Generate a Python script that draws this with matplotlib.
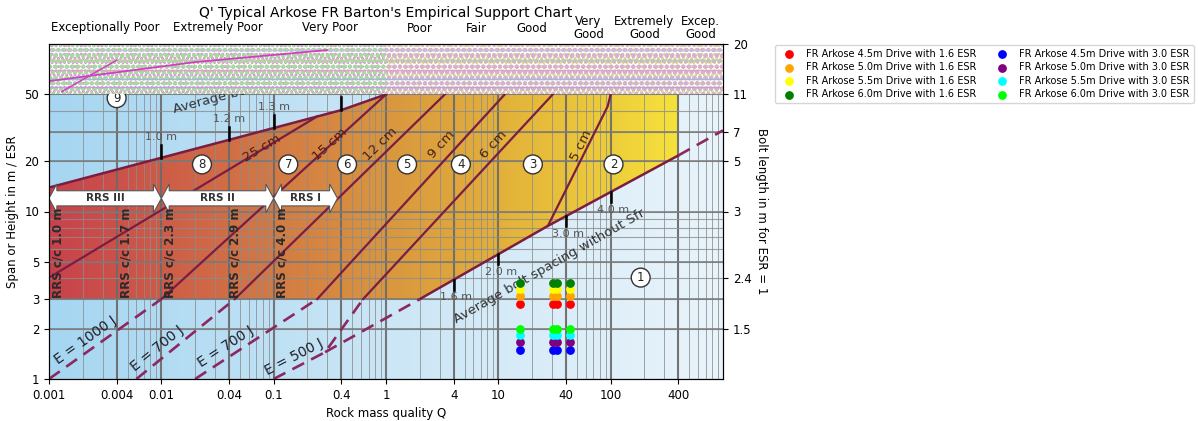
import numpy as np
import matplotlib.pyplot as plt
from matplotlib.colors import LinearSegmentedColormap
from matplotlib.patches import Polygon, Rectangle
from matplotlib.ticker import NullLocator

# axis ticks
q_ticks = [0.001, 0.004, 0.01, 0.04, 0.1, 0.4, 1, 4, 10, 40, 100, 400]
q_tick_labels = ['0.001', '0.004', '0.01', '0.04', '0.1', '0.4', '1', '4', '10', '40', '100', '400']
span_ticks = [1, 2, 3, 5, 10, 20, 50]
bolt_ticks = [2, 4, 10, 20, 30, 50, 100]
bolt_labels = ['1.5', '2.4', '3', '5', '7', '11', '20']

# rock mass classes along the top
classes = ['Exceptionally Poor', 'Extremely Poor', 'Very Poor', 'Poor', 'Fair', 'Good',
           'Very\nGood', 'Extremely\nGood', 'Excep.\nGood']
class_edges = [0.001, 0.01, 0.1, 1, 4, 10, 40, 100, 400, 1000]

# average bolt spacing with Sfr (top of coloured area) and without Sfr
upper_q = [0.001, 0.4, 1]
upper_span = [13.9, 40.3, 50]
lower_q = [2, 27.6, 400]
lower_span = [3, 8.2, 21.6]
lower_dash_q = [[0.287, 2], [400, 1000]]
lower_dash_span = [[1.446, 3], [21.6, 30.5]]
upper_tick_q = [0.01, 0.04, 0.1, 0.4]
upper_tick_lab = ['1.0 m', '1.2 m', '1.3 m', '1.5 m']
lower_tick_q = [4, 10, 40, 100]
lower_tick_lab = ['1.6 m', '2.0 m', '3.0 m', '4.0 m']

# sprayed concrete thickness lines
sc_lab = ['25 cm', '15 cm', '12 cm', '9 cm', '6 cm', '5 cm']
sc_q = [[0.001, 0.245], [0.01, 1], [0.045, 3.34], [0.244, 11.4], [0.625, 30.5], [27.6, 94, 100]]
sc_span = [[4.03, 37], [3, 50], [3, 50], [3, 50], [3, 50], [8.2, 42.4, 50]]
sc_lab_q = [0.079, 0.318, 0.90, 3.15, 9.1, 55]
sc_lab_span = [23.9, 25.2, 25.2, 25.2, 25.2, 24.7]

# energy absorption lines
e_lab = ['E = 1000 J', 'E = 700 J', 'E = 700 J', 'E = 500 J']
e_q = [[0.001, 0.01], [0.006, 0.045], [0.02, 0.244], [0.1, 0.287, 0.625]]
e_span = [[1, 3], [1, 3], [1, 3], [1, 1.446, 3]]
e_lab_q = [0.0024, 0.0106, 0.042, 0.166]

# reinforcement classes
zone_lab = ['9', '8', '7', '6', '5', '4', '3', '2', '1']
zone_q = [0.004, 0.023, 0.135, 0.45, 1.54, 4.64, 20.3, 106, 185]
zone_span = [47.5, 19.1, 19.1, 19.1, 19.1, 19.1, 19.1, 19.1, 4.03]
rrs_lab = ['RRS III', 'RRS II', 'RRS I']
rrs_from = [0.001, 0.01, 0.1]
rrs_to = [0.01, 0.1, 0.37]
rrs_cc = ['RRS c/c 1.0 m', 'RRS c/c 1.7 m', 'RRS c/c 2.3 m', 'RRS c/c 2.9 m', 'RRS c/c 4.0 m']
rrs_cc_q = [0.0012, 0.0048, 0.012, 0.0455, 0.119]

# FR Arkose drives
drive_q = [15.7, 30.4, 33.2, 43.2]
drive_width = [4.5, 5.0, 5.5, 6.0]
esr_values = [1.6, 3.0]
drive_colours = [['red', 'orange', 'yellow', 'green'], ['blue', 'purple', 'cyan', 'lime']]

line_col = '#7b1d42'
dash_col = '#8c275f'

fig = plt.figure(figsize=(11.98, 4.21), dpi=100)
ax = fig.add_axes([49 / 1198, 42 / 421, 674 / 1198, 335 / 421])
ax.set_xscale('log')
ax.set_yscale('log')
ax.set_xlim(0.001, 1000)
ax.set_ylim(1, 100)
ax.set_autoscale_on(False)


def angle(q0, s0, q1, s1):
    p0 = ax.transData.transform((q0, s0))
    p1 = ax.transData.transform((q1, s1))
    return np.degrees(np.arctan2(p1[1] - p0[1], p1[0] - p0[0]))


def on_line(q, qs, ss):
    return 10 ** np.interp(np.log10(q), np.log10(qs), np.log10(ss))


grad = np.linspace(0, 1, 512).reshape(1, -1)
blue = LinearSegmentedColormap.from_list('bg', ['#a6d6f1', '#cbe6f6', '#e9f4fb'])
ax.imshow(grad, cmap=blue, extent=(0, 1, 0, 1), transform=ax.transAxes, aspect='auto', zorder=0)

warm = LinearSegmentedColormap.from_list('warm', [(0, '#c8424c'), (0.167, '#cd5c48'), (0.333, '#d37a44'),
                                                  (0.5, '#d9963f'), (0.667, '#e2b03b'), (0.833, '#edcd3a'),
                                                  (0.933, '#f6e23c'), (1, '#f9ea3d')])
im = ax.imshow(grad, cmap=warm, extent=(0, 1, 0, 1), transform=ax.transAxes, aspect='auto', zorder=1)
verts = [(0.001, 3)] + list(zip(upper_q, upper_span)) + [(lower_q[-1], 50)] + list(zip(lower_q, lower_span))[::-1]
poly = Polygon(verts, closed=True, facecolor='none', edgecolor='none')
ax.add_patch(poly)
im.set_clip_path(poly)

# chart grid
minor_q = [m * 10.0 ** k for k in range(-3, 3) for m in range(2, 10)]
for q in minor_q:
    ax.axvline(q, color='#8c8c8c', lw=0.7, alpha=0.8, zorder=2)
for q in q_ticks[1:]:
    ax.axvline(q, color='#6a6a6a', lw=1.5, alpha=0.9, zorder=2)
for s in [m * 10.0 ** k for k in range(0, 2) for m in range(1, 10)]:
    ax.axhline(s, color='#8c8c8c', lw=0.8, alpha=0.8, zorder=2)
for s in [2, 3, 5, 10, 20, 30, 50]:
    ax.axhline(s, color='#777777', lw=1.2, alpha=0.9, zorder=2)

# boundaries
ax.plot(upper_q, upper_span, color=line_col, lw=1.8, zorder=3)
ax.plot(lower_q, lower_span, color=line_col, lw=1.8, zorder=3)
for qs, ss in zip(lower_dash_q, lower_dash_span):
    ax.plot(qs, ss, color=dash_col, lw=1.9, dashes=(5, 3), zorder=3)
for qs, ss in zip(sc_q, sc_span):
    ax.plot(qs, ss, color=line_col, lw=1.6, zorder=3)
for qs, ss in zip(e_q, e_span):
    ax.plot(qs, ss, color=dash_col, lw=1.9, dashes=(5, 3), zorder=3)

# bolt spacing ticks
for q, lab in zip(upper_tick_q, upper_tick_lab):
    y = on_line(q, upper_q, upper_span)
    ax.plot([q, q], [y, y * 1.2], color='black', lw=1.8, zorder=3)
    ax.text(q, y * 1.25, lab, ha='center', va='bottom', fontsize=8, color='#555555', zorder=4)
for q, lab in zip(lower_tick_q, lower_tick_lab):
    y = on_line(q, lower_q, lower_span)
    ax.plot([q, q], [y, y / 1.15], color='black', lw=1.8, zorder=3)
    ax.text(q * 1.05, y / 1.19, lab, ha='center', va='top', fontsize=8, color='#555555', zorder=4)

ax.text(0.0133, 37.2, 'Average bolt spacing with Sfr', rotation=angle(0.001, 13.9, 0.4, 40.3),
        rotation_mode='anchor', ha='left', va='bottom', fontsize=9.5, color='#333333', zorder=4)
ax.text(28.7, 4.7, 'Average bolt spacing without Sfr', rotation=angle(2, 3, 27.6, 8.2),
        rotation_mode='anchor', ha='center', va='center', fontsize=9.5, color='#333333', zorder=4)

for lab, qs, ss, lq, ls in zip(sc_lab, sc_q, sc_span, sc_lab_q, sc_lab_span):
    rot = angle(qs[0], ss[0], qs[1], ss[1])
    ax.text(lq, ls, lab, rotation=rot, rotation_mode='anchor', ha='center', va='center',
            fontsize=9.5, color='#4a1f12', zorder=4)
for lab, qs, ss, lq in zip(e_lab, e_q, e_span, e_lab_q):
    rot = angle(qs[0], ss[0], qs[1], ss[1])
    a = np.radians(rot)
    ax.annotate(lab, (lq, on_line(lq, qs, ss)), xytext=(-7.5 * np.sin(a), 7.5 * np.cos(a)),
                textcoords='offset points', rotation=rot, rotation_mode='anchor', ha='center',
                va='center', fontsize=10, color='#1e1e2a', zorder=4)

for lab, q, s in zip(zone_lab, zone_q, zone_span):
    ax.text(q, s, lab, ha='center', va='center', fontsize=8.5, color='#222222', zorder=4,
            bbox=dict(boxstyle='circle,pad=0.25', fc='white', ec='#333333', lw=1.0))

# RRS arrows
head = 10 ** 0.07
for lab, q0, q1 in zip(rrs_lab, rrs_from, rrs_to):
    arrow = [(q0, 11.98), (q0 * head, 14.6), (q0 * head, 13.3), (q1 / head, 13.3), (q1 / head, 14.6),
             (q1, 11.98), (q1 / head, 9.8), (q1 / head, 10.8), (q0 * head, 10.8), (q0 * head, 9.8)]
    ax.add_patch(Polygon(arrow, closed=True, fc='white', ec='#555555', lw=0.8, zorder=4))
    ax.text(np.sqrt(q0 * q1), 11.98, lab, ha='center', va='center', fontsize=7.5,
            fontweight='bold', color='#333333', zorder=5)
for lab, q in zip(rrs_cc, rrs_cc_q):
    ax.text(q, 3.05, lab, rotation=90, ha='center', va='bottom', fontsize=8.5,
            fontweight='bold', color='#2a2a2a', zorder=4)

# damaged top strip of the scanned chart
ax.add_patch(Rectangle((0.001, 50), 999.999, 50, fc='white', ec='none', zorder=5))
plt.rcParams['hatch.linewidth'] = 1.4
ax.add_patch(Rectangle((0.001, 50), 0.999, 50, fc='none', ec='#dc7fd4', hatch='....', lw=0, zorder=5))
ax.add_patch(Rectangle((0.001, 50), 0.999, 50, fc='none', ec='#a8d9a0', hatch='ooo', lw=0, zorder=5))
ax.add_patch(Rectangle((1, 50), 999, 50, fc='none', ec='#cbd27a', hatch='....', lw=0, zorder=5))
ax.add_patch(Rectangle((1, 50), 999, 50, fc='none', ec='#d8b0d0', hatch='ooo', lw=0, zorder=5))
for s, c in zip([55, 62, 70, 80, 92], ['#c0a0d8', '#a0b8e0', '#e0a0c8', '#b8d0a0', '#c8c0e0']):
    ax.axhline(s, color=c, lw=1.0, zorder=5)
ax.plot([0.001, 0.02, 0.3], [60, 78, 92], color='#d040c0', lw=1.3, zorder=5)
ax.plot([0.0013, 0.004], [52, 80], color='#d040c0', lw=1.1, zorder=5)

# drive points
for j, esr in enumerate(esr_values):
    for i, w in enumerate(drive_width):
        ax.scatter(drive_q, [w / esr] * len(drive_q), s=28, color=drive_colours[j][i], zorder=6,
                   label=f'FR Arkose {w:.1f}m Drive with {esr:.1f} ESR')

ax.set_xticks(q_ticks, q_tick_labels)
ax.set_yticks(span_ticks, [str(s) for s in span_ticks])
ax.xaxis.set_minor_locator(NullLocator())
ax.yaxis.set_minor_locator(NullLocator())
ax.tick_params(labelsize=8.5)
ax.set_xlabel('Rock mass quality Q', fontsize=8.5)
ax.set_ylabel('Span or Height in m / ESR', fontsize=8.5)

ax2 = ax.twinx()
ax2.set_yscale('log')
ax2.set_ylim(1, 100)
ax2.set_yticks(bolt_ticks, bolt_labels)
ax2.yaxis.set_minor_locator(NullLocator())
ax2.tick_params(labelsize=8.5)
ax2.set_ylabel('Bolt length in m for ESR = 1', rotation=270, labelpad=12, fontsize=8.5)

fig.text(386 / 1198, 1 - 13 / 421, "Q' Typical Arkose FR Barton's Empirical Support Chart",
         ha='center', va='center', fontsize=10)
for lab, a, b in zip(classes, class_edges[:-1], class_edges[1:]):
    x = ax.transData.transform((np.sqrt(a * b), 1))[0] / fig.bbox.width
    fig.text(x, 1 - 28 / 421, lab, ha='center', va='center', fontsize=8.5, linespacing=1.0)

ax.legend(loc='upper left', bbox_to_anchor=(775 / 1198, 1 - 45 / 421), bbox_transform=fig.transFigure,
          ncol=2, fontsize=7, columnspacing=1.6, labelspacing=0.35, borderaxespad=0)

fig.savefig('out.png', dpi=100)
